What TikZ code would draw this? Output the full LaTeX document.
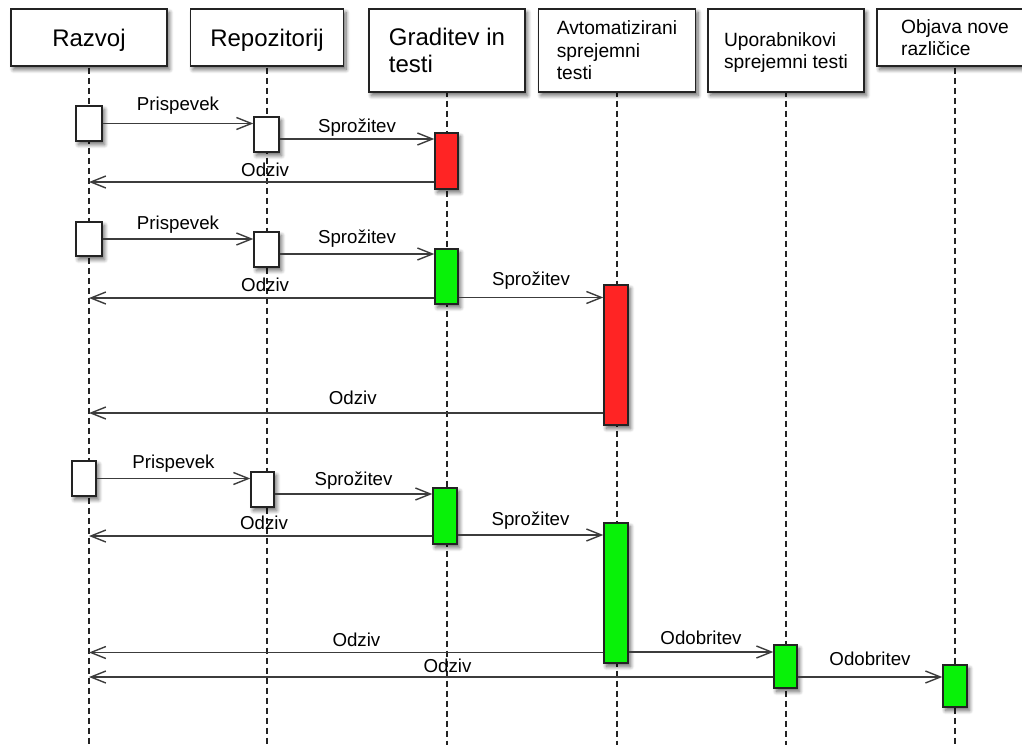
\documentclass[tikz,border=0pt]{standalone}
\usepackage{fontspec}
\setmainfont{Liberation Sans}
\usetikzlibrary{arrows.meta,shadows,shadows.blur,calc}
\definecolor{actred}{RGB}{255,36,36}
\definecolor{actgreen}{RGB}{8,242,8}
\definecolor{ink}{RGB}{35,35,35}
\definecolor{msgc}{RGB}{60,60,60}
\begin{document}
\begin{tikzpicture}[x=1pt,y=-1pt,
  shad/.style={blur shadow={shadow xshift=2.5pt,shadow yshift=-3.5pt,shadow opacity=60,shadow blur steps=8,shadow blur radius=4pt}},
  head/.style={draw=ink,line width=1.4pt,fill=white,inner sep=0pt,align=left,minimum width=156pt,text depth=0pt,shad},
  bighead/.style={head,font=\fontsize{24}{26.5}\selectfont},
  smallhead/.style={head,font=\fontsize{19.2}{22.5}\selectfont},
  life/.style={draw=ink,line width=1.2pt,dash pattern=on 6pt off 4pt},
  act/.style={draw=ink,line width=1.4pt,inner sep=0pt,shad},
  msg/.style={draw=msgc,line width=1.6pt,-{Straight Barb[length=15pt,width=12pt,line width=1.4pt]}},
  lbl/.style={anchor=base,inner sep=0pt,text=black,font=\fontsize{18.7}{21}\selectfont}]
\useasboundingbox (0,0) rectangle (1022,747);
\coordinate (bot) at (0,745);

% lifelines first (behind headers and boxes)
\path (89,37.5) coordinate (l1) (267,37.5) coordinate (l2) (447,50.5) coordinate (l3)
      (617,50.5) coordinate (l4) (786,50.5) coordinate (l5) (955,37.5) coordinate (l6);
\foreach \i in {1,...,6} {\draw[life] (l\i) -- (l\i |- bot);}

% header boxes
\node[bighead,minimum height=57pt] (h1) at (l1) {Razvoj};
\node[bighead,minimum height=57pt,minimum width=153pt] (h2) at (l2) {Repozitorij};
\node[bighead,minimum height=83pt] (h3) at (l3) {Graditev in\\testi};
\node[smallhead,minimum height=83pt,minimum width=157pt] (h4) at (l4) {Avtomatizirani\\sprejemni\\testi};
\node[smallhead,minimum height=83pt] (h5) at (l5) {Uporabnikovi\\sprejemni testi};
\node[smallhead,minimum height=57pt] (h6) at (l6) {Objava nove\\različice};

% activation boxes
\node[act,fill=white,minimum width=26pt,minimum height=35pt] (a1) at (89,123.5) {};
\node[act,fill=white,minimum width=25pt,minimum height=35pt] (r1) at (266.5,134.5) {};
\node[act,fill=actred,minimum width=23pt,minimum height=56pt] (g1) at (446.5,161) {};

\node[act,fill=white,minimum width=26pt,minimum height=34pt] (a2) at (89,239) {};
\node[act,fill=white,minimum width=25pt,minimum height=35pt] (r2) at (266.5,249.5) {};
\node[act,fill=actgreen,minimum width=23pt,minimum height=55pt] (g2) at (446.5,276.5) {};
\node[act,fill=actred,minimum width=24pt,minimum height=140pt] (t2) at (616,355) {};

\node[act,fill=white,minimum width=24pt,minimum height=35pt] (a3) at (84,478.5) {};
\node[act,fill=white,minimum width=23pt,minimum height=35pt] (r3) at (262.5,489.5) {};
\node[act,fill=actgreen,minimum width=24pt,minimum height=56pt] (g3) at (445,516) {};
\node[act,fill=actgreen,minimum width=24pt,minimum height=140pt] (t3) at (616,593) {};
\node[act,fill=actgreen,minimum width=23pt,minimum height=43pt] (u3) at (785.5,666.5) {};
\node[act,fill=actgreen,minimum width=24pt,minimum height=42pt] (o3) at (955,686) {};

% group 1
\draw[msg] (a1.east) -- node[lbl,yshift=13pt]{Prispevek} (a1.east -| r1.west);
\path ([yshift=-4.5pt]r1.east) coordinate (s1);
\draw[msg] (s1) -- node[lbl,yshift=7pt]{Sprožitev} (s1 -| g1.west);
\path ([yshift=-21pt]g1.west) coordinate (d1);
\draw[msg] (d1) -- node[lbl,pos=0.49,yshift=6pt]{Odziv} (d1 -| h1);

% group 2
\draw[msg] (a2.east) -- node[lbl,yshift=10pt]{Prispevek} (a2.east -| r2.west);
\path ([yshift=-4.5pt]r2.east) coordinate (s2);
\draw[msg] (s2) -- node[lbl,yshift=11pt]{Sprožitev} (s2 -| g2.west);
\path ([yshift=-21.5pt]g2.west) coordinate (d2) ([yshift=-21pt]g2.east) coordinate (e2);
\draw[msg] (d2) -- node[lbl,pos=0.49,yshift=7pt]{Odziv} (d2 -| h1);
\draw[msg] (e2) -- node[lbl,yshift=12pt]{Sprožitev} (e2 -| t2.west);
\path ([yshift=-58pt]t2.west) coordinate (f2);
\draw[msg] (f2) -- node[lbl,pos=0.487,yshift=9pt]{Odziv} (f2 -| h1);

% group 3
\draw[msg] (a3.east) -- node[lbl,yshift=10pt]{Prispevek} (a3.east -| r3.west);
\path ([yshift=-4.5pt]r3.east) coordinate (s3);
\draw[msg] (s3) -- node[lbl,yshift=9pt]{Sprožitev} (s3 -| g3.west);
\path ([yshift=-20pt]g3.west) coordinate (d3) ([yshift=-19pt]g3.east) coordinate (e3);
\draw[msg] (d3) -- node[lbl,pos=0.49,yshift=7pt]{Odziv} (d3 -| h1);
\draw[msg] (e3) -- node[lbl,yshift=10pt]{Sprožitev} (e3 -| t3.west);
\path ([yshift=-59.5pt]t3.west) coordinate (f3) ([yshift=-59pt]t3.east) coordinate (k3);
\draw[msg] (f3) -- node[lbl,pos=0.48,yshift=6pt]{Odziv} (f3 -| h1);
\draw[msg] (k3) -- node[lbl,yshift=8pt]{Odobritev} (k3 -| u3.west);
\path ([yshift=-10.5pt]u3.west) coordinate (m3) ([yshift=-10.5pt]u3.east) coordinate (n3);
\draw[msg] (m3) -- node[lbl,pos=0.476,yshift=5pt]{Odziv} (m3 -| h1);
\draw[msg] (n3) -- node[lbl,yshift=12pt]{Odobritev} (n3 -| o3.west);
\end{tikzpicture}
\end{document}
